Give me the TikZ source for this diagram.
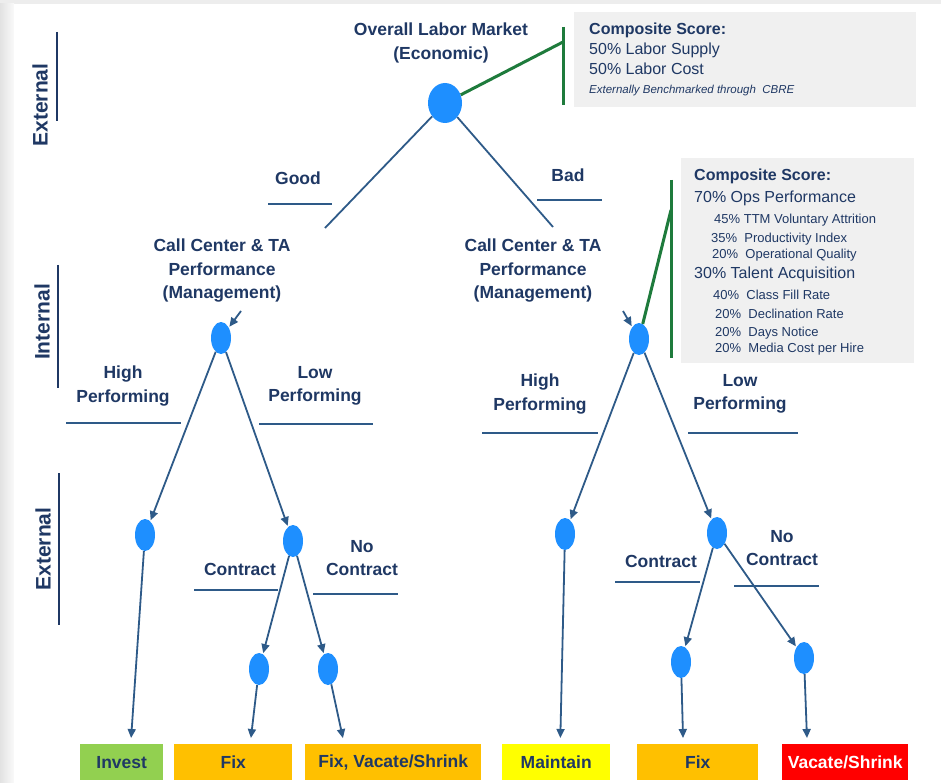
\documentclass[tikz,border=0pt]{standalone}
\usepackage{fontspec}
\setmainfont{Liberation Sans}
\usetikzlibrary{shapes.geometric,arrows.meta,calc}
\definecolor{navy}{HTML}{1F3864}
\definecolor{linec}{HTML}{2E5A88}
\definecolor{nodeblue}{HTML}{1E8FFF}
\definecolor{greenc}{HTML}{1E7B3C}
\definecolor{boxgray}{HTML}{F0F0F0}
\definecolor{bggray}{HTML}{EDEDED}
\definecolor{cgreen}{HTML}{92D050}
\definecolor{corange}{HTML}{FFC000}
\definecolor{cyellow}{HTML}{FFFF00}
\definecolor{cred}{HTML}{FF0000}
\newcommand\lblfont{\fontsize{17.5}{23.5}\selectfont\bfseries}
\newcommand\axfont{\fontsize{21}{24}\selectfont\bfseries}
\newcommand\hdfont{\fontsize{16}{19}\selectfont}
\newcommand\smfont{\fontsize{13}{15}\selectfont}
\tikzset{
  lbl/.style={font=\lblfont, text=navy, align=center, inner sep=0},
  axlbl/.style={font=\axfont, text=navy, inner sep=0, rotate=90},
  dot/.style={ellipse, fill=nodeblue, draw=none, inner sep=0, minimum width=20, minimum height=32},
  conn/.style={draw=linec, line width=1.8},
  arr/.style={conn, -{Triangle[length=9,width=8]}, shorten >=1},
  arrbox/.style={conn, -{Triangle[length=9,width=8]}, shorten >=6},
  uline/.style={draw=linec, line width=1.5},
  axline/.style={draw=navy, line width=2},
  gline/.style={draw=greenc, line width=3},
  scorebox/.style={fill=boxgray, draw=none, inner sep=0, anchor=north west},
  sctxt/.style={anchor=mid west, inner sep=0, text=navy},
  outbox/.style={minimum height=36, inner sep=0, font=\lblfont, text=navy, anchor=north west}
}
\begin{document}
\begin{tikzpicture}[x=1pt,y=-1pt]
\useasboundingbox (0,0) rectangle (941,783);
% background card
\fill[bggray] (0,0) rectangle (941,783);
\shade[left color=bggray!90!gray, right color=white!96!gray] (0,4) rectangle (14,783);
\fill[white] (14,4) rectangle (941,783);

% axis labels
\node[axlbl] (ax1) at (40,105) {External};
\node[axlbl] (ax2) at (42,322) {Internal};
\node[axlbl] (ax3) at (43,549) {External};
\draw[axline] (57,32) -- (57,121);
\draw[axline] (58,265) -- (58,388);
\draw[axline] (59,473) -- (59,625);

% root
\node[lbl] (title) at (441,43) {Overall Labor Market\\(Economic)};
\node[dot, minimum width=34, minimum height=40] (root) at (445,103) {};

% score box 1
\node[scorebox, minimum width=342, minimum height=95] (sb1) at (574,12) {};
\coordinate (g1) at (563,42);
\draw[gline] (root) -- (g1);
\draw[gline] (563,27) -- (563,105);
\node[sctxt, font=\hdfont\bfseries] (s1a) at (589,31.5) {Composite Score:};
\node[sctxt, font=\hdfont] (s1b) at (589,51.5) {50\% Labor Supply};
\node[sctxt, font=\hdfont] (s1c) at (589,71.5) {50\% Labor Cost};
\node[sctxt, font=\fontsize{11.5}{13}\selectfont\itshape] (s1d) at (589,91) {Externally Benchmarked through\ \ CBRE};

% Good / Bad
\coordinate (gend) at (325,228);
\coordinate (bend) at (553,227);
\draw[conn] (root) -- (gend);
\draw[conn] (root) -- (bend);
\node[lbl] (good) at (298,178) {Good};
\draw[uline] (268,204) -- (332,204);
\node[lbl] (bad) at (568,175) {Bad};
\draw[uline] (537,200) -- (602,200);

% management nodes
\node[lbl] (mt1) at (222,271) {Call Center \& TA\\Performance\\(Management)};
\node[lbl] (mt2) at (533,271) {Call Center \& TA\\Performance\\(Management)};
\node[dot] (m1) at (221,338) {};
\node[dot] (m2) at (639,339) {};
\coordinate (a1) at (241,311);
\coordinate (a2) at (623,311);
\draw[arr] (a1) -- (m1);
\draw[arr] (a2) -- (m2);

% score box 2
\node[scorebox, minimum width=233, minimum height=205] (sb2) at (681,158) {};
\coordinate (g2) at (671,210);
\draw[gline] (m2) -- (g2);
\draw[gline] (671,180) -- (671,358);
\node[sctxt, font=\hdfont\bfseries] (s2a) at (694,178) {Composite Score:};
\node[sctxt, font=\hdfont] (s2b) at (694,200) {70\% Ops Performance};
\node[sctxt, font=\smfont] (s2c) at (714,220.5) {45\% TTM Voluntary Attrition};
\node[sctxt, font=\smfont] (s2d) at (711,239.5) {35\%\ \ Productivity Index};
\node[sctxt, font=\smfont] (s2e) at (712,255.5) {20\%\ \ Operational Quality};
\node[sctxt, font=\hdfont] (s2f) at (694,276) {30\% Talent Acquisition};
\node[sctxt, font=\smfont] (s2g) at (713,296.5) {40\%\ \ Class Fill Rate};
\node[sctxt, font=\smfont] (s2h) at (715,315.5) {20\%\ \ Declination Rate};
\node[sctxt, font=\smfont] (s2i) at (715,333.5) {20\%\ \ Days Notice};
\node[sctxt, font=\smfont] (s2j) at (715,349.5) {20\%\ \ Media Cost per Hire};

% left performance level
\node[dot] (h1) at (145,535) {};
\node[dot] (l1) at (293,541) {};
\draw[arr] (m1) -- (h1);
\draw[arr] (m1) -- (l1);
\node[lbl] (hp1) at (123,386) {High\\Performing};
\draw[uline] (66,423) -- (181,423);
\node[lbl] (lp1) at (315,386) {Low\\Performing};
\draw[uline] (259,424) -- (373,424);

% right performance level
\node[dot] (h2) at (565,534) {};
\node[dot] (l2) at (717,533) {};
\draw[arr] (m2) -- (h2);
\draw[arr] (m2) -- (l2);
\node[lbl] (hp2) at (540,394) {High\\Performing};
\draw[uline] (482,433) -- (598,433);
\node[lbl] (lp2) at (740,394) {Low\\Performing};
\draw[uline] (688,433) -- (798,433);

% left contract level
\node[dot] (c1) at (259,669) {};
\node[dot] (n1) at (328,669) {};
\draw[arr] (l1) -- (c1);
\draw[arr] (l1) -- (n1);
\node[lbl] (ct1) at (240,569) {Contract};
\draw[uline] (194,590) -- (278,590);
\node[lbl] (nc1) at (362,558) {No\\Contract};
\draw[uline] (313,594) -- (398,594);

% right contract level
\node[dot] (c2) at (681,662) {};
\node[dot] (n2) at (804,658) {};
\draw[arr] (l2) -- (c2);
\draw[arr] (l2) -- (n2);
\node[lbl] (ct2) at (661,561) {Contract};
\draw[uline] (615,582) -- (700,582);
\node[lbl] (nc2) at (782,548) {No\\Contract};
\draw[uline] (734,586) -- (819,586);

% outcome boxes
\node[outbox, fill=cgreen, minimum width=83] (invest) at (80,744) {Invest};
\node[outbox, fill=corange, minimum width=118] (fix1) at (174,744) {Fix};
\node[outbox, fill=corange, minimum width=176] (fvs) at (305,744) {Fix, Vacate/Shrink};
\node[outbox, fill=cyellow, minimum width=108] (maint) at (502,744) {Maintain};
\node[outbox, fill=corange, minimum width=121] (fix2) at (637,744) {Fix};
\node[outbox, fill=cred, minimum width=126, text=white] (vac) at (782,744) {Vacate/Shrink};

\draw[arrbox] (h1) -- ($(invest.north)+(9,0)$);
\draw[arrbox] (c1) -- ($(fix1.north)+(17,0)$);
\draw[arrbox] (n1) -- ($(fvs.north)+(-49,0)$);
\draw[arrbox] (h2) -- ($(maint.north)+(4,0)$);
\draw[arrbox] (c2) -- ($(fix2.north)+(-14.5,0)$);
\draw[arrbox] (n2) -- ($(vac.north)+(-38,0)$);
\end{tikzpicture}
\end{document}
